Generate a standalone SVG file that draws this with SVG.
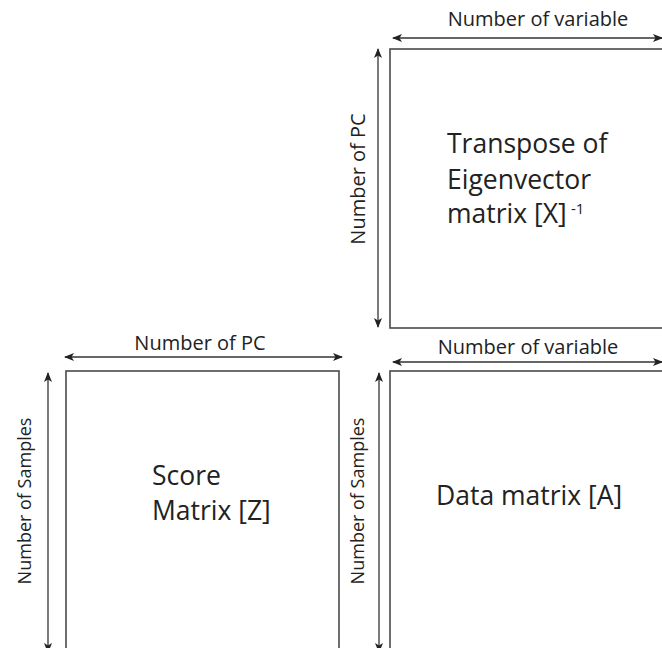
<svg xmlns="http://www.w3.org/2000/svg" width="662" height="648" viewBox="0 0 662 648">
<style>
.box{fill:none;stroke:#4a4a4a;stroke-width:1.6}
.arr{stroke:#333;stroke-width:1.3;fill:none;marker-start:url(#ah);marker-end:url(#ah)}
.lbl{font-family:"Open Sans","Noto Sans",sans-serif;font-size:20px;fill:#222}
.smp{font-family:"Open Sans","Noto Sans",sans-serif;font-size:18px;fill:#222}
.big{font-family:"Open Sans","Noto Sans",sans-serif;font-size:26.5px;fill:#222}
.sup{font-family:"Open Sans","Noto Sans",sans-serif;font-size:15px;fill:#222}
</style>
<defs>
<marker id="ah" viewBox="0 0 10 10" refX="9" refY="5" markerWidth="10" markerHeight="10" markerUnits="userSpaceOnUse" orient="auto-start-reverse">
<path d="M0,1 L10,5 L0,9 L2.5,5 Z" fill="#222"/>
</marker>
</defs>
<rect width="662" height="648" fill="#fff"/>
<g id="eigen">
<rect class="box" x="390" y="49" width="290" height="279"/>
<text class="big" x="447" y="153">Transpose of</text>
<text class="big" x="447" y="189">Eigenvector</text>
<text class="big" x="447" y="223">matrix [X]</text>
<text class="sup" x="571" y="214">-1</text>
</g>
<g id="score">
<rect class="box" x="66" y="371" width="273" height="300"/>
<text class="big" x="152" y="485">Score</text>
<text class="big" x="152" y="520">Matrix [Z]</text>
</g>
<g id="data">
<rect class="box" x="390" y="371" width="290" height="300"/>
<text class="big" x="436" y="505">Data matrix [A]</text>
</g>
<g id="connectors">
<line class="arr" x1="393" y1="38" x2="662" y2="38"/>
<line class="arr" x1="378" y1="49" x2="378" y2="327"/>
<line class="arr" x1="65" y1="357" x2="342" y2="357"/>
<line class="arr" x1="393" y1="362" x2="662" y2="362"/>
<line class="arr" x1="48" y1="373" x2="48" y2="652"/>
<line class="arr" x1="379" y1="373" x2="379" y2="652"/>
</g>
<g id="labels">
<text class="lbl" x="538" y="26" text-anchor="middle">Number of variable</text>
<text class="lbl" x="528" y="354" text-anchor="middle">Number of variable</text>
<text class="lbl" x="200" y="350" text-anchor="middle">Number of PC</text>
<text class="lbl" transform="translate(365,179) rotate(-90)" text-anchor="middle">Number of PC</text>
<text class="smp" transform="translate(31,501) rotate(-90)" text-anchor="middle">Number of Samples</text>
<text class="smp" transform="translate(364,501) rotate(-90)" text-anchor="middle">Number of Samples</text>
</g>
</svg>
